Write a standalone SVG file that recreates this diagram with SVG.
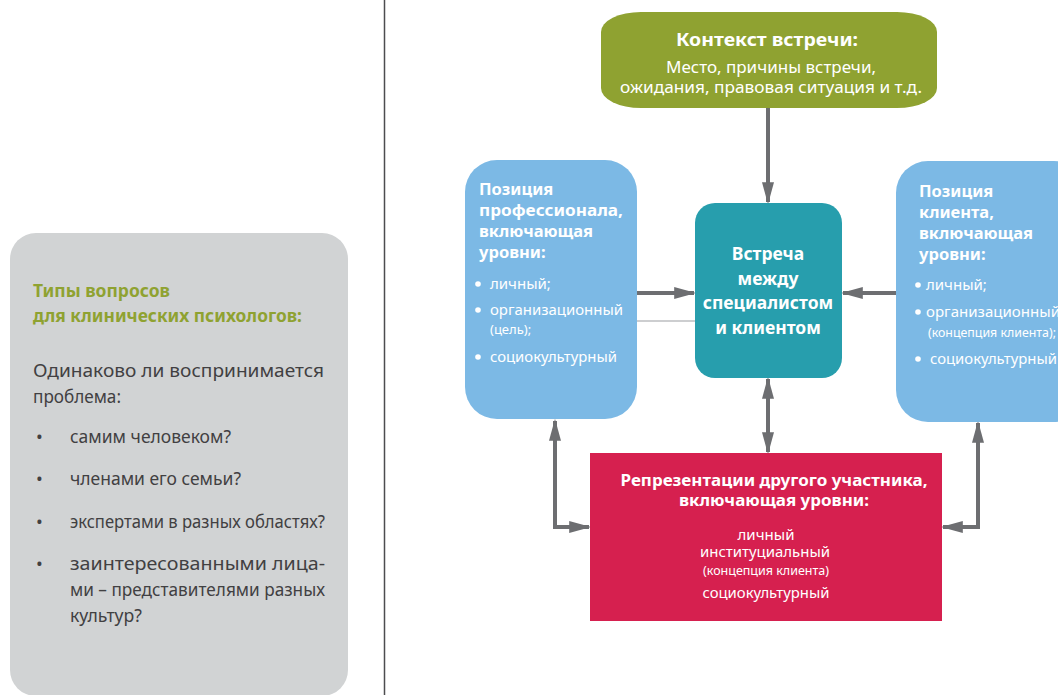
<svg xmlns="http://www.w3.org/2000/svg" width="1058" height="695" viewBox="0 0 1058 695">
  <defs>
    <style>
      .t { font-family: "Noto Sans", "Open Sans", "DejaVu Sans", sans-serif; fill: #ffffff; }
      .b { font-weight: bold; }
      .side { font-family: "Noto Sans", "Open Sans", sans-serif; }
      .conn { stroke: #6d6e71; stroke-width: 4; fill: none; }
    </style>
    <marker id="ah" viewBox="0 0 10 10" refX="9" refY="5" markerWidth="5.5" markerHeight="3" markerUnits="strokeWidth" orient="auto-start-reverse" preserveAspectRatio="none">
      <path d="M0,0 L10,5 L0,10 z" fill="#6d6e71"/>
    </marker>
  </defs>

  <rect width="1058" height="695" fill="#ffffff"/>

  <!-- side panel: question types -->
  <g id="questions">
    <rect x="10" y="233" width="338" height="463" rx="26" ry="26" fill="#d1d3d4"/>
    <text class="side b" x="33" y="297" font-size="17" fill="#8fa231" textLength="137" lengthAdjust="spacingAndGlyphs">Типы вопросов</text>
    <text class="side b" x="33" y="322" font-size="17" fill="#8fa231" textLength="269" lengthAdjust="spacingAndGlyphs">для клинических психологов:</text>
    <g font-size="18" fill="#414042" class="side">
      <text x="33" y="377" textLength="291" lengthAdjust="spacingAndGlyphs">Одинаково ли воспринимается</text>
      <text x="33" y="403" textLength="88" lengthAdjust="spacingAndGlyphs">проблема:</text>
      <text x="36" y="443" font-size="18">•</text>
      <text x="70" y="443" textLength="161" lengthAdjust="spacingAndGlyphs">самим человеком?</text>
      <text x="36" y="485" font-size="18">•</text>
      <text x="70" y="485" textLength="171" lengthAdjust="spacingAndGlyphs">членами его семьи?</text>
      <text x="36" y="528" font-size="18">•</text>
      <text x="70" y="528" textLength="255" lengthAdjust="spacingAndGlyphs">экспертами в разных областях?</text>
      <text x="36" y="570" font-size="18">•</text>
      <text x="70" y="570" textLength="255" lengthAdjust="spacingAndGlyphs">заинтересованными лица-</text>
      <text x="70" y="596" textLength="255" lengthAdjust="spacingAndGlyphs">ми – представителями разных</text>
      <text x="70" y="622" textLength="72" lengthAdjust="spacingAndGlyphs">культур?</text>
    </g>
  </g>

  <!-- column divider -->
  <line x1="384.5" y1="0" x2="384.5" y2="695" stroke="#4d4d4f" stroke-width="1.5"/>

  <!-- connectors -->
  <g id="connectors">
    <line class="conn" x1="768" y1="108" x2="768" y2="202" marker-end="url(#ah)"/>
    <line class="conn" x1="637" y1="293" x2="694" y2="293" marker-end="url(#ah)"/>
    <line x1="637" y1="321" x2="695" y2="321" stroke="#bcbec0" stroke-width="1.5"/>
    <line class="conn" x1="896" y1="293" x2="843" y2="293" marker-end="url(#ah)"/>
    <line class="conn" x1="768" y1="379" x2="768" y2="452" marker-start="url(#ah)" marker-end="url(#ah)"/>
    <polyline class="conn" points="589,527 555,527 555,421" marker-start="url(#ah)" marker-end="url(#ah)"/>
    <polyline class="conn" points="943,527 978,527 978,423" marker-start="url(#ah)" marker-end="url(#ah)"/>
  </g>

  <!-- meeting context -->
  <g id="context">
    <rect x="601" y="12" width="336" height="96" rx="40" ry="20" fill="#8fa231"/>
    <text class="t b" x="767" y="46" font-size="18.5" text-anchor="middle" textLength="182" lengthAdjust="spacingAndGlyphs">Контекст встречи:</text>
    <text class="t" x="771" y="73" font-size="15.5" text-anchor="middle" textLength="210" lengthAdjust="spacingAndGlyphs">Место, причины встречи,</text>
    <text class="t" x="771" y="93" font-size="15.5" text-anchor="middle" textLength="302" lengthAdjust="spacingAndGlyphs">ожидания, правовая ситуация и т.д.</text>
  </g>

  <!-- professional position -->
  <g id="professional">
    <rect x="465" y="160" width="172" height="259" rx="32" ry="32" fill="#7cb9e5"/>
    <g class="t b" font-size="16.5">
      <text x="479" y="195">Позиция</text>
      <text x="479" y="216" textLength="144" lengthAdjust="spacingAndGlyphs">профессионала,</text>
      <text x="479" y="237">включающая</text>
      <text x="479" y="258">уровни:</text>
    </g>
    <g class="t" font-size="15">
      <circle cx="478" cy="284" r="2.8" fill="#ffffff"/>
      <text x="490" y="289">личный;</text>
      <circle cx="478" cy="310" r="2.8" fill="#ffffff"/>
      <text x="490" y="315" textLength="133" lengthAdjust="spacingAndGlyphs">организационный</text>
      <text x="490" y="334" font-size="13">(цель);</text>
      <circle cx="478" cy="357" r="2.8" fill="#ffffff"/>
      <text x="490" y="362" textLength="127" lengthAdjust="spacingAndGlyphs">социокультурный</text>
    </g>
  </g>

  <!-- the meeting -->
  <g id="meeting">
    <rect x="695" y="203" width="147" height="175" rx="20" ry="20" fill="#279ead"/>
    <g class="t b" font-size="17.5" text-anchor="middle">
      <text x="768" y="260">Встреча</text>
      <text x="768" y="285">между</text>
      <text x="768" y="309">специалистом</text>
      <text x="768" y="334">и клиентом</text>
    </g>
  </g>

  <!-- client position -->
  <g id="client">
    <rect x="896" y="161" width="190" height="261" rx="32" ry="32" fill="#7cb9e5"/>
    <g class="t b" font-size="16.5">
      <text x="919" y="197">Позиция</text>
      <text x="919" y="218">клиента,</text>
      <text x="919" y="239">включающая</text>
      <text x="919" y="260">уровни:</text>
    </g>
    <g class="t" font-size="15">
      <circle cx="918" cy="285" r="2.8" fill="#ffffff"/>
      <text x="926" y="290">личный;</text>
      <circle cx="918" cy="312" r="2.8" fill="#ffffff"/>
      <text x="926" y="317" textLength="134" lengthAdjust="spacingAndGlyphs">организационный</text>
      <text x="928" y="337" font-size="12.5" textLength="128" lengthAdjust="spacingAndGlyphs">(концепция клиента);</text>
      <circle cx="918" cy="359" r="2.8" fill="#ffffff"/>
      <text x="930" y="364" textLength="127" lengthAdjust="spacingAndGlyphs">социокультурный</text>
    </g>
  </g>

  <!-- representations of the other participant -->
  <g id="representations">
    <rect x="590" y="453" width="352" height="168" fill="#d6204f"/>
    <g class="t b" font-size="15.5" text-anchor="middle">
      <text x="774" y="486" textLength="307" lengthAdjust="spacingAndGlyphs">Репрезентации другого участника,</text>
      <text x="774" y="506" textLength="190" lengthAdjust="spacingAndGlyphs">включающая уровни:</text>
    </g>
    <g class="t" text-anchor="middle">
      <text x="766" y="540" font-size="13.5" textLength="57" lengthAdjust="spacingAndGlyphs">личный</text>
      <text x="765" y="557" font-size="13.5" textLength="130" lengthAdjust="spacingAndGlyphs">институциальный</text>
      <text x="766" y="575" font-size="12" textLength="126" lengthAdjust="spacingAndGlyphs">(концепция клиента)</text>
      <text x="766" y="598" font-size="15" textLength="127" lengthAdjust="spacingAndGlyphs">социокультурный</text>
    </g>
  </g>
</svg>
